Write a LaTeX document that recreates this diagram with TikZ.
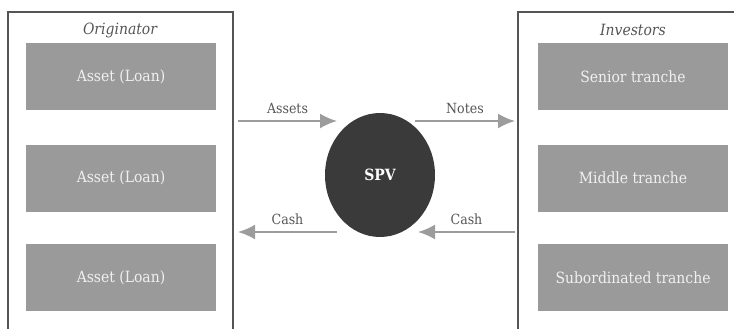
\documentclass[tikz,border=0pt]{standalone}
\usepackage{fontspec}
\setmainfont{DejaVu Serif Condensed}
\usetikzlibrary{arrows.meta,positioning,shapes.geometric}

\definecolor{framegray}{HTML}{555555}
\definecolor{boxgray}{HTML}{9A9A9A}
\definecolor{boxtext}{HTML}{F0F0F0}
\definecolor{spvgray}{HTML}{3A3A3A}
\definecolor{flowgray}{HTML}{9C9C9C}
\definecolor{labelgray}{HTML}{555555}

\begin{document}
\begin{tikzpicture}[
    x=1pt, y=-1pt,
    frame/.style={draw=framegray, line width=1.4pt},
    title/.style={text=labelgray, font=\fontsize{15.5}{17}\selectfont\itshape},
    asset/.style={fill=boxgray, text=boxtext, minimum width=190pt, minimum height=67pt, inner sep=0pt, font=\fontsize{15.5}{17}\selectfont},
    spv/.style={ellipse, fill=spvgray, text=white, minimum width=110pt, minimum height=124pt, inner sep=0pt, font=\fontsize{15.5}{17}\selectfont\bfseries},
    flow/.style={-{Latex[length=17pt,width=15pt]}, draw=flowgray, line width=2pt},
    flowlabel/.style={text=labelgray, font=\fontsize{14}{16}\selectfont, above=3pt, midway}
  ]
    \useasboundingbox (0,0) rectangle (734,329);
    % originator and investors frames (open at the edges)
    \draw[frame] (8,329) -- (8,12) -- (233,12) -- (233,329);
    \draw[frame] (518,329) -- (518,12) -- (734,12);
    \node[title] (orig) at (120,30) {Originator};
    \node[title] (inv) at (633,30) {Investors};
    \node[asset] (loanA) at (121,76.5) {Asset (Loan)};
    \node[asset] (loanB) at (121,178) {Asset (Loan)};
    \node[asset] (loanC) at (121,277.5) {Asset (Loan)};
    \node[asset] (senior) at (633,76.5) {Senior tranche};
    \node[asset] (middle) at (633,178) {Middle tranche};
    \node[asset] (subord) at (633,277.5) {Subordinated tranche};
    \node[spv] (spv) at (380,175) {SPV};
    % free ends of the flows
    \coordinate (assetsIn) at (238,121);
    \coordinate (assetsOut) at (337,121);
    \coordinate (notesIn) at (415,121);
    \coordinate (notesOut) at (515,121);
    \coordinate (cashLa) at (337,232);
    \coordinate (cashLb) at (238,232);
    \coordinate (cashRa) at (515,232);
    \coordinate (cashRb) at (418,232);
    \draw[flow] (assetsIn) -- (assetsOut) node[flowlabel] {Assets};
    \draw[flow] (notesIn) -- (notesOut) node[flowlabel] {Notes};
    \draw[flow] (cashLa) -- (cashLb) node[flowlabel] {Cash};
    \draw[flow] (cashRa) -- (cashRb) node[flowlabel] {Cash};
  \end{tikzpicture}
\end{document}
